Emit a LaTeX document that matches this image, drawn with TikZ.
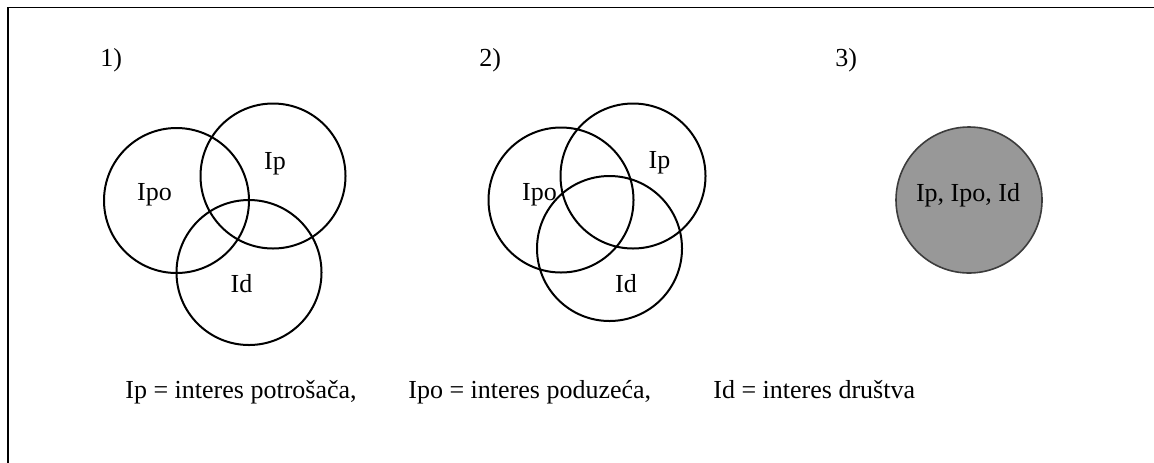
\documentclass[tikz,border=0pt]{standalone}
\usepackage{fontspec}
\setmainfont{Liberation Serif}
\definecolor{setgray}{RGB}{152,152,152}
\definecolor{rimgray}{RGB}{60,60,60}
\begin{document}
\begin{tikzpicture}[x=0.5pt,y=-0.5pt,
  set/.style={circle, draw, line width=1pt, minimum size=72.5pt, inner sep=0pt},
  fullset/.style={circle, draw=rimgray, fill=setgray, line width=0.8pt, minimum size=73pt, inner sep=0pt},
  lbl/.style={font=\fontsize{13}{15}\selectfont, inner sep=0pt, anchor=base},
  lblw/.style={lbl, anchor=base west},
  frameline/.style={line width=0.8pt}]
\useasboundingbox (0,0) rectangle (1154,462);

% open frame: top and left edges
\coordinate (ftr) at (1160,7.5);
\coordinate (ftl) at (8,7.5);
\coordinate (fbl) at (8,470);
\draw[frameline] (ftr) -- (ftl) -- (fbl);

% panel numbers
\node[lblw] (n1) at (100,66) {1)};
\node[lblw] (n2) at (479,66) {2)};
\node[lblw] (n3) at (835,66) {3)};

% panel 1: partly overlapping interests
\node[set] (a-po) at (176.5,200.5) {};
\node[set] (a-p)  at (273,176) {};
\node[set] (a-d)  at (249,272.5) {};
\node[lbl] (ta-po) at (154.5,200) {Ipo};
\node[lbl] (ta-p)  at (275,169) {Ip};
\node[lbl] (ta-d)  at (241.5,292.5) {Id};

% panel 2: strongly overlapping interests
\node[set] (b-po) at (561,200) {};
\node[set] (b-p)  at (633,176) {};
\node[set] (b-d)  at (609.5,248.5) {};
\node[lbl] (tb-po) at (539.5,200) {Ipo};
\node[lbl] (tb-p)  at (659.5,168) {Ip};
\node[lbl] (tb-d)  at (626,292.5) {Id};

% panel 3: coinciding interests
\node[fullset] (c-all) at (969,200) {};
\node[lbl] (tc-all) at (968,201.5) {Ip, Ipo, Id};

% legend
\node[lblw] (leg1) at (125,398) {Ip = interes potrošača,};
\node[lblw] (leg2) at (408,398) {Ipo = interes poduzeća,};
\node[lblw] (leg3) at (713,398) {Id = interes društva};
\end{tikzpicture}
\end{document}
